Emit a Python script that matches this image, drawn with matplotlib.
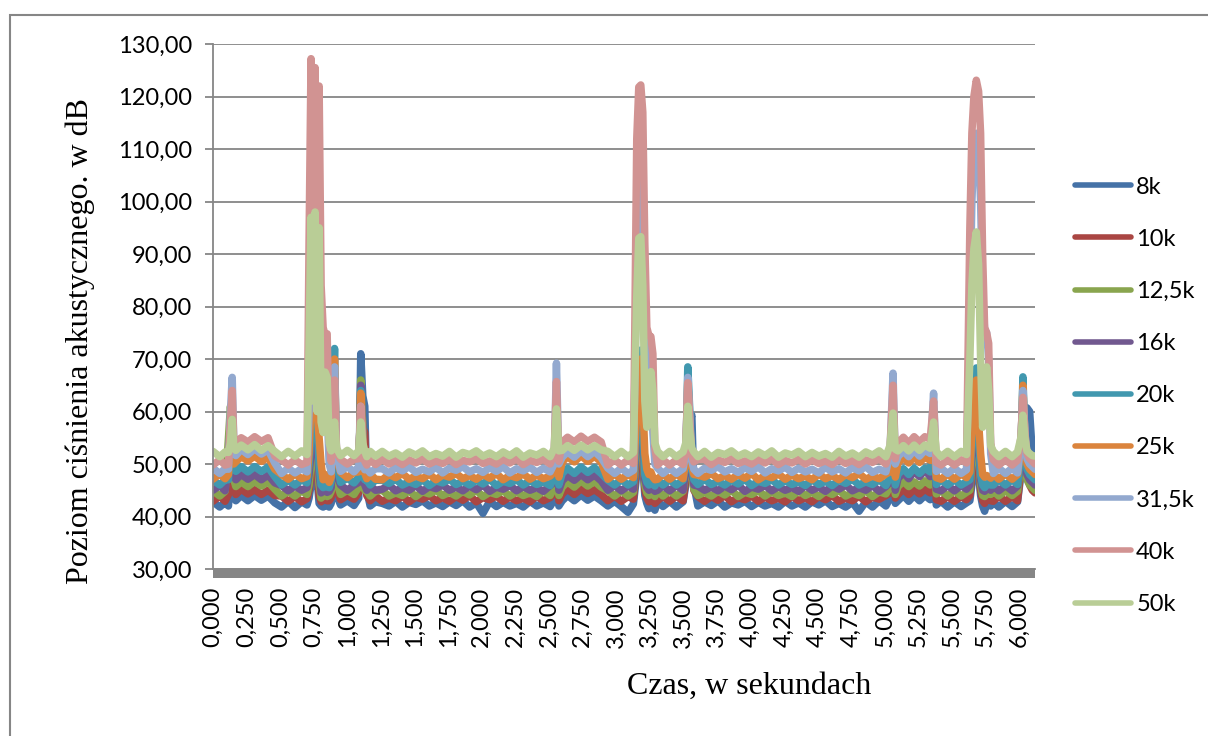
import matplotlib
matplotlib.use("Agg")
import matplotlib.pyplot as plt
from matplotlib.patches import Rectangle
from matplotlib.ticker import FixedLocator, FuncFormatter

# sample times in seconds (denser around the impulses)
t = [
    0.00, 0.05, 0.09, 0.115, 0.13, 0.143, 0.155, 0.17, 0.21, 0.26, 0.31, 0.36, 0.41, 0.46, 0.51, 0.56, 0.61, 0.66, 0.70,
    0.715, 0.73, 0.745, 0.76, 0.775, 0.79, 0.805, 0.82, 0.835, 0.85, 0.865, 0.88, 0.895, 0.905, 0.92, 0.95, 1.00, 1.05, 1.085, 1.10, 1.115, 1.13, 1.145, 1.17, 1.21,
    1.26, 1.31, 1.36, 1.41, 1.46, 1.51, 1.56, 1.61, 1.66, 1.71, 1.76, 1.81, 1.86, 1.91, 1.96, 2.01, 2.06, 2.11, 2.16, 2.21, 2.26, 2.31, 2.36, 2.41, 2.46, 2.51, 2.54,
    2.557, 2.575, 2.60, 2.64, 2.69, 2.74, 2.79, 2.84, 2.89, 2.94, 2.99, 3.04, 3.09, 3.13,
    3.155, 3.17, 3.185, 3.20, 3.215, 3.23, 3.245, 3.26, 3.275, 3.29, 3.31, 3.35, 3.40, 3.45, 3.50, 3.52, 3.535, 3.55, 3.565, 3.58, 3.61,
    3.66, 3.71, 3.76, 3.81, 3.86, 3.91, 3.96, 4.01, 4.06, 4.11, 4.16, 4.21, 4.26, 4.31, 4.36, 4.41, 4.46, 4.51, 4.56, 4.61, 4.66, 4.71, 4.76, 4.81, 4.86, 4.91, 4.96, 5.01, 5.04,
    5.063, 5.08, 5.10, 5.14, 5.18, 5.22, 5.26, 5.30, 5.34, 5.365, 5.385, 5.42, 5.47, 5.52, 5.57, 5.61,
    5.635, 5.65, 5.665, 5.683, 5.70, 5.715, 5.73, 5.745, 5.76, 5.775, 5.79, 5.81, 5.85, 5.90, 5.95, 5.99, 6.015, 6.03, 6.045, 6.06, 6.08, 6.10, 6.12,
]

# sound pressure level per band, dB
spl_8k = [
    42.8, 41.8, 42.7, 42.0, 47.0, 50.0, 44.0, 43.0, 44.0, 43.0, 44.0, 43.1, 43.9, 42.6, 41.8, 42.9, 41.7, 42.8, 42.2,
    43.5, 46.0, 48.0, 68.0, 47.0, 42.5, 42.0, 41.8, 43.0, 42.0, 41.8, 42.5, 48.0, 52.0, 44.0, 42.2, 43.0, 42.1, 43.5, 71.0, 63.0, 61.0, 45.0, 42.0, 42.8,
    42.5, 42.0, 42.9, 41.8, 42.7, 42.3, 43.0, 42.0, 42.6, 41.9, 42.8, 42.1, 43.0, 41.8, 42.6, 40.6, 42.9, 41.9, 42.7, 42.0, 42.5, 41.8, 42.9, 42.0, 42.6, 41.9, 43.2,
    48.0, 42.0, 43.0, 44.0, 43.0, 44.1, 43.1, 43.9, 43.0, 42.0, 42.9, 41.9, 40.8, 42.4,
    48.0, 52.0, 60.0, 50.0, 44.0, 42.5, 41.5, 42.8, 42.0, 41.2, 42.9, 41.9, 42.9, 41.8, 42.8, 46.0, 55.0, 58.0, 59.3, 46.0, 42.0,
    42.8, 42.1, 43.0, 41.8, 42.6, 42.2, 42.9, 41.9, 42.7, 42.0, 42.5, 41.8, 42.9, 42.0, 42.6, 41.8, 42.8, 42.2, 43.0, 41.9, 42.5, 41.8, 42.7, 41.0, 42.8, 41.8, 43.0, 42.0, 43.5,
    50.0, 42.5, 43.0, 44.0, 42.9, 44.0, 43.0, 44.0, 43.2, 48.0, 42.2, 42.9, 41.8, 42.8, 41.9, 42.6,
    43.0, 46.0, 50.0, 56.0, 48.0, 44.0, 42.0, 41.0, 42.5, 42.8, 42.0, 42.8, 41.8, 42.9, 41.9, 42.8, 48.0, 55.0, 58.0, 60.7, 60.0, 52.0, 45.0,
]
spl_10k = [
    42.9, 43.9, 42.9, 44.2, 50.0, 52.0, 46.0, 44.2, 45.2, 44.3, 45.1, 44.2, 45.0, 44.0, 43.9, 42.9, 43.8, 42.8, 43.4,
    45.0, 48.0, 50.0, 54.0, 49.0, 44.0, 42.8, 43.2, 43.8, 43.0, 43.0, 43.6, 50.0, 54.0, 45.0, 43.2, 44.0, 43.3, 44.5, 64.0, 57.0, 56.0, 44.0, 43.0, 43.9,
    42.9, 43.5, 43.0, 43.9, 42.8, 43.7, 43.3, 44.0, 43.0, 43.6, 42.9, 43.8, 43.1, 44.0, 42.8, 43.6, 43.2, 43.9, 42.9, 43.7, 43.0, 43.5, 42.8, 43.9, 43.0, 43.6, 44.4,
    50.0, 43.0, 44.3, 45.2, 44.2, 45.3, 44.4, 45.1, 44.2, 43.0, 43.9, 42.9, 43.8, 43.3,
    50.0, 54.0, 58.0, 52.0, 45.0, 43.5, 42.8, 43.6, 43.2, 42.5, 43.0, 43.9, 42.9, 43.9, 43.0, 47.0, 57.0, 56.5, 52.0, 45.0, 43.8,
    42.9, 43.8, 43.1, 44.0, 42.8, 43.6, 43.2, 43.9, 42.9, 43.7, 43.0, 43.5, 42.8, 43.9, 43.0, 43.6, 42.8, 43.8, 43.2, 44.0, 42.9, 43.5, 43.0, 43.9, 42.8, 43.7, 43.3, 44.0, 44.5,
    51.0, 43.5, 44.2, 45.2, 44.2, 45.2, 44.3, 45.2, 44.5, 50.0, 43.2, 42.9, 43.8, 42.9, 43.8, 43.2,
    44.0, 48.0, 52.0, 58.0, 50.0, 45.0, 43.0, 42.5, 43.5, 43.8, 43.0, 42.9, 43.9, 42.9, 43.8, 43.0, 49.0, 55.0, 52.0, 48.0, 46.0, 45.0, 44.5,
]
spl_12k5 = [
    44.9, 43.9, 44.8, 55.0, 61.0, 56.0, 47.0, 45.7, 46.6, 45.7, 46.7, 45.8, 46.6, 45.2, 43.9, 44.8, 43.9, 44.9, 44.2,
    46.0, 50.0, 54.0, 58.0, 52.0, 46.0, 43.5, 44.0, 44.6, 43.8, 44.0, 44.8, 52.0, 57.0, 46.5, 44.2, 45.0, 44.2, 45.6, 66.0, 57.0, 45.0, 44.8, 43.9, 44.8,
    45.0, 43.9, 44.5, 44.0, 44.9, 43.8, 44.7, 44.3, 45.0, 44.0, 44.6, 43.9, 44.8, 44.1, 45.0, 43.8, 44.6, 44.2, 44.9, 43.9, 44.7, 44.0, 44.5, 43.8, 44.9, 44.0, 45.5,
    52.0, 44.0, 45.6, 46.6, 45.6, 46.8, 45.8, 46.7, 45.6, 44.9, 43.9, 44.9, 43.9, 44.6,
    52.0, 56.0, 60.0, 54.0, 46.0, 44.5, 44.0, 44.8, 44.2, 43.8, 44.9, 43.9, 44.9, 43.9, 44.8, 48.0, 58.0, 55.0, 48.0, 45.2, 44.0,
    44.6, 43.9, 44.8, 44.1, 45.0, 43.8, 44.6, 44.2, 44.9, 43.9, 44.7, 44.0, 44.5, 43.8, 44.9, 44.0, 44.6, 43.8, 44.8, 44.2, 45.0, 43.9, 44.5, 44.0, 44.9, 43.8, 44.7, 44.3, 45.6,
    53.0, 44.2, 45.7, 46.7, 45.7, 46.6, 45.8, 46.8, 46.0, 51.0, 44.3, 44.9, 43.9, 44.9, 43.9, 44.6,
    45.0, 50.0, 55.0, 60.0, 52.0, 46.0, 44.0, 43.8, 44.2, 44.6, 44.2, 44.9, 43.9, 44.9, 44.0, 44.8, 50.0, 56.0, 50.0, 47.0, 46.0, 45.5, 45.0,
]
spl_16k = [
    45.0, 45.9, 44.9, 50.0, 58.0, 57.0, 48.0, 47.0, 48.0, 47.1, 48.0, 47.0, 47.9, 46.4, 45.9, 44.9, 45.8, 45.0, 45.5,
    48.0, 52.0, 56.0, 60.0, 55.0, 48.0, 44.5, 44.8, 45.4, 44.6, 44.8, 45.5, 55.0, 60.0, 48.0, 46.0, 45.0, 46.0, 46.5, 65.0, 56.0, 46.0, 45.0, 45.9, 45.0,
    45.2, 46.0, 44.9, 45.5, 45.0, 45.9, 44.8, 45.7, 45.3, 46.0, 45.0, 45.6, 44.9, 45.8, 45.1, 46.0, 44.8, 45.6, 45.2, 45.9, 44.9, 45.7, 45.0, 45.5, 44.8, 45.9, 46.5,
    54.0, 45.0, 46.8, 47.8, 46.9, 48.0, 47.0, 47.9, 46.8, 45.0, 45.9, 44.9, 45.8, 45.2,
    54.0, 58.0, 62.0, 56.0, 47.0, 45.5, 45.0, 45.8, 45.2, 44.8, 45.0, 45.9, 44.9, 45.9, 45.0, 49.0, 60.0, 55.0, 48.5, 46.0, 45.8,
    45.0, 45.6, 44.9, 45.8, 45.1, 46.0, 44.8, 45.6, 45.2, 45.9, 44.9, 45.7, 45.0, 45.5, 44.8, 45.9, 45.0, 45.6, 44.8, 45.8, 45.2, 46.0, 44.9, 45.5, 45.0, 45.9, 44.8, 45.7, 46.5,
    54.0, 45.0, 47.2, 48.4, 47.2, 48.6, 47.6, 48.8, 47.6, 52.0, 45.2, 44.9, 45.9, 44.9, 45.9, 45.2,
    46.0, 52.0, 57.0, 62.0, 54.0, 47.0, 45.0, 44.8, 45.2, 45.5, 45.0, 45.9, 44.9, 45.9, 44.9, 45.8, 51.0, 58.0, 52.0, 48.0, 47.0, 46.5, 46.0,
]
spl_20k = [
    46.9, 46.0, 47.0, 47.0, 55.0, 58.0, 49.0, 48.6, 49.5, 48.5, 49.5, 48.6, 49.4, 47.6, 46.0, 46.9, 46.0, 47.0, 46.4,
    50.0, 56.0, 60.0, 70.5, 58.0, 50.0, 46.0, 45.5, 46.5, 45.6, 45.5, 46.8, 64.0, 72.0, 50.0, 46.5, 47.3, 46.4, 47.5, 64.0, 55.0, 47.0, 46.9, 46.0, 46.9,
    46.9, 46.3, 47.1, 46.0, 46.6, 46.1, 47.0, 45.9, 46.8, 46.4, 47.1, 46.1, 46.7, 46.0, 46.9, 46.2, 47.1, 45.9, 46.7, 46.3, 47.0, 46.0, 46.8, 46.1, 46.6, 45.9, 47.5,
    56.0, 46.0, 48.2, 49.2, 48.2, 49.4, 48.4, 49.3, 48.2, 46.9, 46.0, 47.0, 46.0, 46.6,
    56.0, 62.0, 71.7, 58.0, 48.0, 46.5, 46.0, 46.6, 46.2, 45.8, 47.0, 46.0, 47.0, 46.0, 46.9, 50.0, 68.5, 60.0, 49.0, 47.0, 46.1,
    47.1, 46.1, 46.7, 46.0, 46.9, 46.2, 47.1, 45.9, 46.7, 46.3, 47.0, 46.0, 46.8, 46.1, 46.6, 45.9, 47.0, 46.1, 46.7, 45.9, 46.9, 46.3, 47.1, 46.0, 46.6, 46.1, 47.0, 45.9, 47.5,
    55.0, 46.0, 48.0, 49.1, 48.0, 49.2, 48.2, 49.2, 48.5, 54.0, 46.1, 47.0, 46.0, 47.0, 46.0, 46.6,
    47.0, 54.0, 60.0, 68.3, 56.0, 48.0, 46.0, 45.5, 46.0, 46.4, 46.0, 46.0, 47.0, 46.0, 47.0, 46.1, 52.0, 66.6, 55.0, 49.0, 48.0, 47.5, 47.0,
]
spl_25k = [
    47.1, 48.1, 47.2, 48.0, 56.0, 60.0, 50.0, 50.4, 51.4, 50.6, 51.5, 50.5, 51.3, 49.0, 48.0, 47.1, 48.1, 47.2, 47.6,
    52.0, 62.0, 68.0, 66.0, 60.0, 55.0, 50.0, 47.0, 48.0, 47.2, 46.5, 47.5, 62.0, 70.0, 51.0, 48.4, 47.4, 48.4, 48.5, 63.5, 55.0, 48.2, 47.2, 48.1, 47.1,
    47.0, 48.0, 47.4, 48.2, 47.1, 47.7, 47.2, 48.1, 47.0, 47.9, 47.5, 48.2, 47.2, 47.8, 47.1, 48.0, 47.3, 48.2, 47.0, 47.8, 47.4, 48.1, 47.1, 47.9, 47.2, 47.7, 48.5,
    58.0, 47.5, 50.4, 51.4, 50.4, 51.6, 50.5, 51.5, 50.4, 47.1, 48.1, 47.1, 48.0, 47.4,
    60.0, 66.0, 70.0, 62.0, 52.0, 49.0, 48.0, 48.5, 47.5, 47.0, 47.1, 48.1, 47.1, 48.1, 47.2, 51.0, 66.0, 58.0, 49.5, 48.0, 47.9,
    47.5, 48.2, 47.2, 47.8, 47.1, 48.0, 47.3, 48.2, 47.0, 47.8, 47.4, 48.1, 47.1, 47.9, 47.2, 47.7, 47.0, 48.1, 47.2, 47.8, 47.0, 48.0, 47.4, 48.2, 47.1, 47.7, 47.2, 48.1, 48.5,
    57.0, 47.5, 50.2, 51.3, 50.2, 51.4, 50.3, 51.3, 50.7, 56.0, 47.4, 47.1, 48.1, 47.1, 48.1, 47.4,
    48.5, 56.0, 62.0, 66.0, 58.0, 52.0, 48.0, 47.5, 47.8, 47.6, 47.3, 48.1, 47.1, 48.1, 47.1, 48.0, 53.0, 65.0, 55.0, 50.0, 49.0, 48.5, 48.0,
]
spl_31k5 = [
    49.2, 48.2, 49.1, 49.0, 60.0, 66.5, 54.0, 51.6, 52.8, 51.8, 52.9, 51.9, 52.7, 50.2, 48.2, 49.2, 48.3, 49.1, 48.5,
    60.0, 85.0, 90.0, 88.0, 85.0, 80.0, 72.0, 70.0, 68.0, 60.0, 50.0, 48.5, 64.0, 68.5, 52.0, 48.6, 49.5, 48.5, 49.5, 61.0, 52.0, 48.9, 49.2, 48.3, 49.1,
    49.1, 48.3, 49.3, 48.7, 49.5, 48.4, 49.0, 48.5, 49.4, 48.3, 49.2, 48.8, 49.5, 48.5, 49.1, 48.4, 49.3, 48.6, 49.5, 48.3, 49.1, 48.7, 49.4, 48.4, 49.2, 48.5, 50.0,
    69.2, 50.0, 51.3, 52.3, 51.3, 52.5, 51.4, 52.4, 51.2, 49.2, 48.2, 49.2, 48.2, 48.8,
    90.0, 108.0, 110.0, 100.0, 80.0, 72.0, 70.0, 66.0, 56.0, 50.0, 49.2, 48.2, 49.2, 48.2, 49.1, 52.0, 66.5, 59.0, 50.5, 49.0, 48.2,
    49.2, 48.8, 49.5, 48.5, 49.1, 48.4, 49.3, 48.6, 49.5, 48.3, 49.1, 48.7, 49.4, 48.4, 49.2, 48.5, 49.0, 48.3, 49.4, 48.5, 49.1, 48.3, 49.3, 48.7, 49.5, 48.4, 49.0, 48.5, 52.0,
    67.3, 50.0, 51.4, 52.5, 51.4, 52.6, 51.5, 52.6, 52.0, 63.5, 48.6, 49.2, 48.2, 49.2, 48.2, 48.9,
    80.0, 100.0, 110.0, 113.0, 110.0, 100.0, 82.0, 75.5, 75.0, 70.0, 52.0, 48.2, 49.2, 48.2, 49.2, 48.3, 54.0, 64.0, 56.0, 51.0, 50.0, 49.5, 49.0,
]
spl_40k = [
    49.8, 50.8, 49.8, 50.0, 58.0, 64.0, 54.0, 54.2, 55.0, 54.2, 55.2, 54.3, 55.0, 51.5, 50.8, 49.8, 50.8, 49.9, 50.3,
    92.0, 127.2, 86.0, 125.5, 86.0, 122.0, 84.0, 76.0, 74.5, 74.8, 55.0, 50.5, 62.0, 66.0, 52.0, 50.9, 50.0, 50.9, 51.0, 61.0, 54.0, 50.5, 49.8, 50.8, 49.9,
    50.9, 50.0, 50.7, 49.9, 50.8, 50.2, 51.0, 50.0, 50.6, 50.1, 50.9, 49.9, 50.7, 50.4, 51.0, 50.1, 50.6, 50.0, 50.9, 50.2, 51.0, 49.9, 50.7, 50.3, 50.9, 50.0, 52.0,
    65.7, 50.5, 54.2, 55.1, 54.2, 55.3, 54.3, 55.1, 54.2, 49.8, 50.8, 49.8, 50.8, 50.1,
    112.0, 121.8, 122.2, 117.0, 92.0, 76.0, 74.5, 74.3, 71.0, 53.0, 49.8, 50.8, 49.8, 50.8, 49.9, 53.0, 65.5, 58.0, 51.5, 50.4, 50.9,
    50.9, 49.9, 50.8, 50.3, 51.0, 50.1, 50.6, 50.0, 50.9, 50.2, 51.0, 49.9, 50.7, 50.2, 50.9, 50.0, 50.8, 50.1, 50.6, 49.9, 50.9, 50.1, 50.7, 49.9, 50.8, 50.3, 51.0, 50.0, 52.5,
    65.0, 51.0, 54.0, 55.1, 54.0, 55.2, 54.2, 55.2, 54.7, 62.0, 50.3, 49.8, 50.8, 49.8, 50.8, 50.2,
    95.0, 113.0, 120.0, 123.1, 121.0, 113.0, 90.0, 76.0, 75.0, 73.0, 54.0, 50.8, 49.8, 50.8, 49.8, 50.7, 55.0, 62.7, 56.0, 52.0, 51.0, 50.5, 50.0,
]
spl_50k = [
    52.4, 51.4, 52.3, 52.2, 54.0, 58.5, 53.0, 52.6, 53.6, 52.7, 53.7, 52.6, 53.5, 52.4, 51.4, 52.4, 51.5, 52.5, 51.8,
    72.0, 97.0, 62.0, 98.0, 60.0, 95.0, 58.0, 56.0, 67.5, 66.5, 54.0, 52.5, 56.0, 58.0, 53.0, 51.6, 52.6, 51.6, 52.5, 58.0, 54.0, 52.4, 51.4, 52.4, 51.5,
    52.4, 51.5, 52.1, 51.3, 52.3, 51.7, 52.5, 51.4, 52.0, 51.5, 52.4, 51.3, 52.2, 51.8, 52.5, 51.5, 52.1, 51.4, 52.3, 51.6, 52.5, 51.3, 52.1, 51.7, 52.4, 51.4, 53.0,
    60.5, 52.5, 52.6, 53.5, 52.6, 53.6, 52.7, 53.5, 52.7, 52.4, 51.4, 52.4, 51.4, 52.2,
    82.0, 93.0, 93.3, 84.0, 62.0, 57.0, 62.0, 67.6, 64.0, 54.0, 52.4, 51.4, 52.4, 51.4, 52.3, 54.0, 61.0, 56.0, 53.0, 52.3, 51.4,
    52.4, 51.3, 52.2, 51.8, 52.5, 51.5, 52.1, 51.4, 52.3, 51.6, 52.5, 51.3, 52.1, 51.7, 52.4, 51.4, 52.2, 51.5, 52.0, 51.3, 52.4, 51.5, 52.1, 51.3, 52.3, 51.7, 52.5, 51.4, 53.5,
    59.7, 52.8, 52.5, 53.5, 52.5, 53.6, 52.6, 53.6, 53.0, 58.0, 52.4, 51.4, 52.4, 51.4, 52.4, 51.8,
    70.0, 84.0, 91.0, 94.2, 88.0, 70.0, 57.0, 63.0, 68.5, 64.0, 53.5, 52.4, 51.4, 52.4, 51.4, 52.3, 55.0, 59.3, 55.0, 52.5, 52.0, 51.6, 51.5,
]

series = [spl_8k, spl_10k, spl_12k5, spl_16k, spl_20k, spl_25k, spl_31k5, spl_40k, spl_50k]
labels = ["8k", "10k", "12,5k", "16k", "20k", "25k", "31,5k", "40k", "50k"]
colors = ["#4572A7", "#AA4643", "#89A54E", "#71588F", "#4198AF",
          "#DB843D", "#93A9CF", "#D19392", "#B9CD96"]
x_ticks = [i * 0.25 for i in range(25)]
y_ticks = list(range(30, 131, 10))

grey = "#868686"
plt.rcParams["font.family"] = ["Lato", "DejaVu Sans"]

fig = plt.figure(figsize=(12.08, 7.36), dpi=100)
ax = fig.add_axes([213 / 1208, 1 - 569 / 736, 822 / 1208, 525 / 736])

for vals, lab, col in zip(series, labels, colors):
    ax.plot(t, vals, color=col, lw=5.4, label=lab,
            solid_capstyle="round", solid_joinstyle="round")

ax.set_xlim(0, 6.12)
ax.set_ylim(30, 130)
ax.yaxis.set_major_locator(FixedLocator(y_ticks))
ax.yaxis.set_major_formatter(FuncFormatter(lambda v, p: f"{v:.2f}".replace(".", ",")))
ax.xaxis.set_major_locator(FixedLocator(x_ticks))
ax.xaxis.set_major_formatter(FuncFormatter(lambda v, p: f"{v:.3f}".replace(".", ",")))

ax.grid(axis="y", color=grey, lw=1.3)
ax.set_axisbelow(True)
for side in ["top", "right"]:
    ax.spines[side].set_visible(False)
ax.spines["left"].set_color(grey)
ax.spines["left"].set_linewidth(1.3)
ax.spines["bottom"].set_color(grey)
ax.spines["bottom"].set_linewidth(1.3)

ax.tick_params(axis="y", length=6, width=1.3, color=grey, pad=9, labelsize=17)
ax.tick_params(axis="x", length=0, pad=13, labelsize=17, labelrotation=90)

# dense category tick marks under the time axis
ax.add_patch(Rectangle((0, -9 / 525), 1, 9 / 525, transform=ax.transAxes,
                       color=grey, clip_on=False, lw=0))

fig.text(80 / 1208, 1 - 341 / 736, "Poziom ciśnienia akustycznego. w dB",
         rotation=90, ha="center", va="center", fontsize=23,
         family="Liberation Serif")
fig.text(749 / 1208, 1 - 686 / 736, "Czas, w sekundach",
         ha="center", va="center", fontsize=23, family="Liberation Serif")

leg = ax.legend(loc="center left", bbox_to_anchor=(1.0226, 0.33), frameon=False,
                fontsize=17, handlelength=2.4, labelspacing=1.32, handletextpad=0.2)
for line in leg.get_lines():
    line.set_linewidth(4.0)

# outer chart border
fig.patches.append(Rectangle((10 / 1208, -0.1), 1.2, 1.1 - 15 / 736,
                             transform=fig.transFigure, fill=False,
                             edgecolor=grey, lw=1.5))

fig.savefig("out.png", dpi=100)
